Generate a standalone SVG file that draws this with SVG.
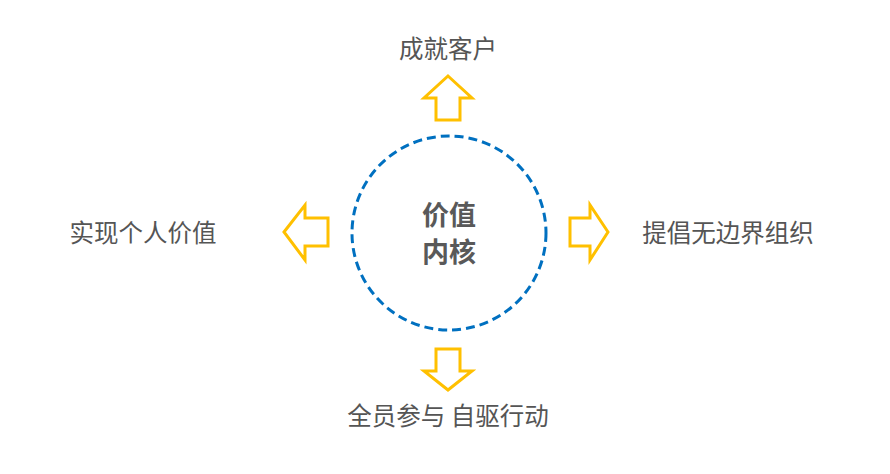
<svg xmlns="http://www.w3.org/2000/svg" width="890" height="474" viewBox="0 0 890 474">
<style>
.t{font-family:"Noto Sans CJK SC","Noto Sans",sans-serif;font-size:24.5px;fill:#555;text-anchor:middle;dominant-baseline:central}
.c{font-family:"Noto Sans CJK SC","Noto Sans",sans-serif;font-size:27px;font-weight:bold;fill:#595959;text-anchor:middle;dominant-baseline:central}
.a{fill:#fff;stroke:#FFC000;stroke-width:3;stroke-linejoin:miter}
</style>
<rect width="890" height="474" fill="#fff"/>
<g id="core">
<circle cx="449" cy="233" r="97" fill="none" stroke="#0070C0" stroke-width="3" stroke-dasharray="9,5"/>
<text class="c" x="449" y="213">价值</text>
<text class="c" x="449" y="250">内核</text>
</g>
<g id="connectors">
<polygon class="a" points="448,76 472,98 460,98 460,120 436,120 436,98 424,98"/>
<polygon class="a" points="448,390 472,371 460,371 460,349 436,349 436,371 424,371"/>
<polygon class="a" points="284,232 305,205 305,218 328,218 328,246 305,246 305,260"/>
<polygon class="a" points="608,232 590,205 590,218 570,218 570,246 590,246 590,260"/>
</g>
<g id="top"><text class="t" x="448" y="47">成就客户</text></g>
<g id="left"><text class="t" x="143" y="231">实现个人价值</text></g>
<g id="right"><text class="t" x="728" y="231">提倡无边界组织</text></g>
<g id="bottom"><text class="t" x="448" y="414">全员参与 自驱行动</text></g>
</svg>
